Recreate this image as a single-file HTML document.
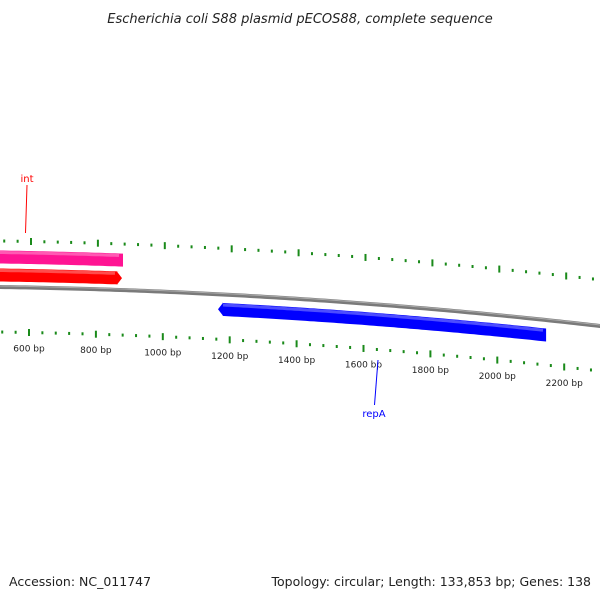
<!DOCTYPE html>
<html><head><meta charset="utf-8"><style>
body{margin:0;background:#fff;}
svg{display:block;font-family:"DejaVu Sans","Liberation Sans",sans-serif;}
</style></head><body>
<svg id="c" width="600" height="600" viewBox="0 0 600 600">
<text x="300" y="23" text-anchor="middle" font-size="13" font-style="italic" fill="#222">Escherichia coli S88 plasmid pECOS88, complete sequence</text>
<text x="9" y="586" font-size="12.5" fill="#222">Accession: NC_011747</text>
<text x="591" y="586" text-anchor="end" font-size="12.5" fill="#222">Topology: circular; Length: 133,853 bp; Genes: 138</text>
<g id="g"></g>
</svg>
<script>
const tickBp = [400,600,800,1000,1200,1400,1600,1800,2000,2200,2400];
const geneNames = ["int-partner","int","repA"];
const geneStart = [0,0,1165];
const geneEnd = [881,878,2146];
const geneColor = ["#ff1493","#ff0000","#0000ff"];
const geneOffset = [-30,-12,15];
const geneArrowAtStart = [false,false,true];
const geneArrowAtEnd = [false,true,false];
const ns="http://www.w3.org/2000/svg";
const g=document.getElementById('g');
function xOf(bp){return 29+(bp-600)*0.3345;}
function bpOf(x){return 600+(x-29)/0.3345;}
function yOf(x){return 287+0.015*x+8.33e-5*x*x;}
function el(t,a){const e=document.createElementNS(ns,t);for(const k in a)e.setAttribute(k,a[k]);g.appendChild(e);return e;}
// backbone
let d="";for(let x=-5;x<=605;x+=5){d+=(x==-5?"M":"L")+x+","+yOf(x).toFixed(2);}
let bb=el('path',{d:d,stroke:"#7a7a7a","stroke-width":4,fill:"none"});


let bb2=el('path',{d:d,stroke:"#aaa","stroke-width":1,fill:"none",transform:"translate(0,-1)"});


// ticks
for(let bp=0;bp<=2600;bp+=40){
  const x=xOf(bp); if(x<-5||x>605)continue;
  const major=bp%200===0; const h=major?7:3;
  const yt=yOf(x)-46, yb=yOf(x)+45;
  let t1=el('rect',{x:x+1,y:yt-h/2,width:2,height:h,fill:"#1a8a1a"});
  
  
  let t2=el('rect',{x:x-1,y:yb-h/2,width:2,height:h,fill:"#1a8a1a"});
  
  
}
tickBp.forEach(bp=>{
  const x=xOf(bp); if(x<0||x>600)return;
  const t=el('text',{x:x,y:yOf(x)+64,"font-size":"9","text-anchor":"middle",fill:"#222"});
  t.textContent=bp+" bp";
  
  
});
// genes
for(let i=0;i<geneNames.length;i++){
  const x0=Math.max(-5,xOf(geneStart[i])), x1=xOf(geneEnd[i]), off=geneOffset[i], hw=6.5;
  let top=[],bot=[];
  for(let x=x0;x<=x1;x+=4){top.push([x,yOf(x)+off-hw]);bot.push([x,yOf(x)+off+hw]);}
  top.push([x1,yOf(x1)+off-hw]);bot.push([x1,yOf(x1)+off+hw]);
  let pts=[];
  if(geneArrowAtStart[i]){top[0][0]+=5;bot[0][0]+=5;pts.push([x0,yOf(x0)+off]);}
  pts=pts.concat(top);
  if(geneArrowAtEnd[i]){pts[pts.length-1][0]-=5;bot[bot.length-1][0]-=5;pts.push([x1,yOf(x1)+off]);}
  pts=pts.concat(bot.reverse());
  const p=el('polygon',{points:pts.map(q=>q[0].toFixed(1)+","+q[1].toFixed(1)).join(" "),fill:geneColor[i]});
  
  
  let hl=[];for(let x=x0+(geneArrowAtStart[i]?5:0);x<=x1-(geneArrowAtEnd[i]?5:0);x+=4)hl.push(x.toFixed(1)+","+(yOf(x)+off-hw+2).toFixed(1));
  const s=el('polyline',{points:hl.join(" "),stroke:"#fff","stroke-opacity":0.3,"stroke-width":3,fill:"none"});
  
  
}
// labels
const l1=el('line',{x1:27,y1:185,x2:25.5,y2:233,stroke:"#ff0000","stroke-width":1});


const t1=el('text',{x:27,y:182,"font-size":"10","text-anchor":"middle",fill:"#ff0000"});t1.textContent="int";


const l2=el('line',{x1:378,y1:360,x2:374.5,y2:405,stroke:"#0000ff","stroke-width":1});


const t2=el('text',{x:374,y:417,"font-size":"10","text-anchor":"middle",fill:"#0000ff"});t2.textContent="repA";


</script>
</body></html>
